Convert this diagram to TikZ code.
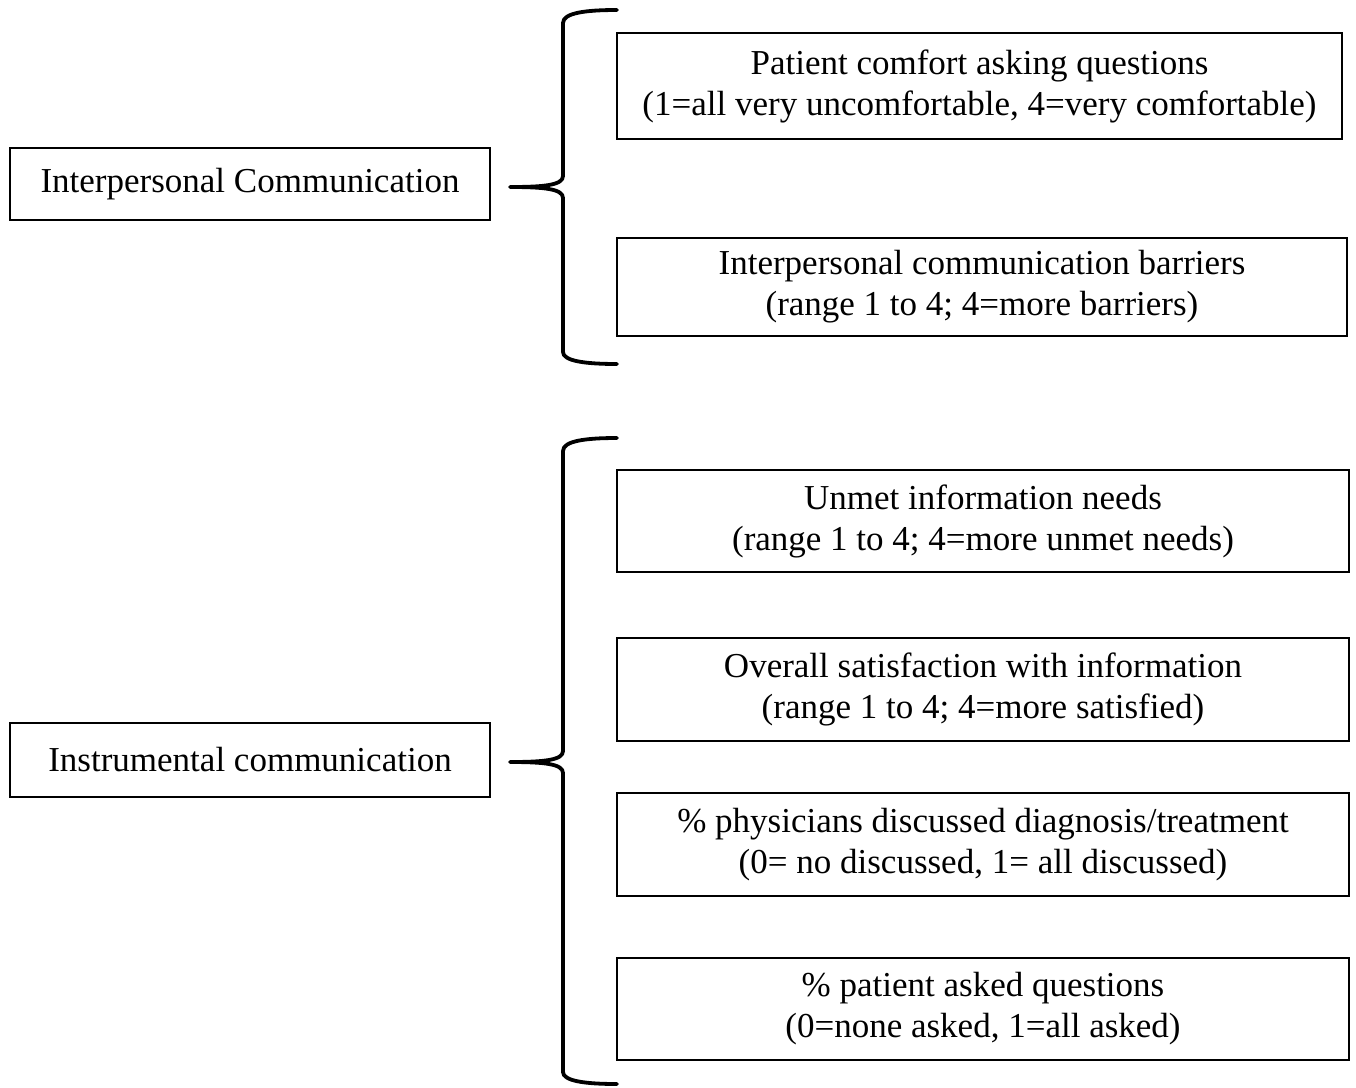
\documentclass[tikz,border=0pt]{standalone}
\usepackage{fontspec}
\setmainfont{Liberation Serif}
\begin{document}
\begin{tikzpicture}[x=1pt,y=-1pt,
  box/.style={draw, line width=1.6pt, inner sep=0pt, align=center,
    font=\fontsize{35}{41}\selectfont},
  bracepath/.style={line width=3.8pt, line cap=round, line join=round}]
\useasboundingbox (0,0) rectangle (1356,1087);
\node[box, minimum width=480pt, minimum height=72pt] (L1) at (250,184) {Interpersonal Communication};
\node[box, minimum width=480pt, minimum height=74pt] (L2) at (250,760) {Instrumental communication};
\node[box, minimum width=725pt, minimum height=106pt] (R1) at (979.5,86) {Patient comfort asking questions\\(1=all very uncomfortable, 4=very comfortable)};
\node[box, minimum width=730pt, minimum height=98pt] (R2) at (982,287) {Interpersonal communication barriers\\(range 1 to 4; 4=more barriers)};
\node[box, minimum width=732pt, minimum height=102pt] (R3) at (983,521) {Unmet information needs\\(range 1 to 4; 4=more unmet needs)};
\node[box, minimum width=732pt, minimum height=103pt] (R4) at (983,689.5) {Overall satisfaction with information\\(range 1 to 4; 4=more satisfied)};
\node[box, minimum width=732pt, minimum height=103pt] (R5) at (983,844.5) {\% physicians discussed diagnosis/treatment\\(0= no discussed, 1= all discussed)};
\node[box, minimum width=732pt, minimum height=102pt] (R6) at (983,1009) {\% patient asked questions\\(0=none asked, 1=all asked)};
% upper brace
\draw[bracepath] (617,10) .. controls (585,10) and (563,13) .. (563,23)
  -- (563,176) .. controls (563,185) and (545,187) .. (510,187)
  .. controls (545,187) and (563,189) .. (563,198)
  -- (563,352) .. controls (563,361) and (585,364) .. (617,364);
% lower brace
\draw[bracepath] (617,438) .. controls (585,438) and (563,441) .. (563,451)
  -- (563,751) .. controls (563,760) and (545,762) .. (510,762)
  .. controls (545,762) and (563,764) .. (563,773)
  -- (563,1072) .. controls (563,1081) and (585,1084) .. (617,1084);
\end{tikzpicture}
\end{document}
